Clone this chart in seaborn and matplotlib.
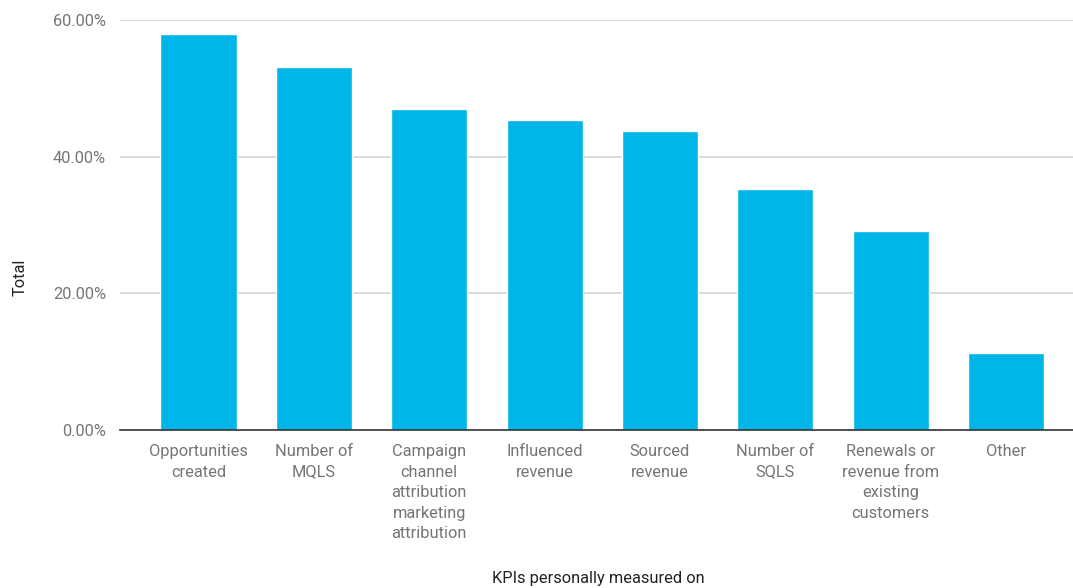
import matplotlib
matplotlib.use("Agg")
import matplotlib.pyplot as plt
from matplotlib.ticker import FuncFormatter
import seaborn as sns
import pandas as pd

categories = [
    "Opportunities\ncreated",
    "Number of\nMQLS",
    "Campaign\nchannel\nattribution\nmarketing\nattribution",
    "Influenced\nrevenue",
    "Sourced\nrevenue",
    "Number of\nSQLS",
    "Renewals or\nrevenue from\nexisting\ncustomers",
    "Other",
]
totals = [58.0, 53.1, 47.0, 45.3, 43.7, 35.2, 29.1, 11.2]
y_ticks = [0, 20, 40, 60]

df = pd.DataFrame({"kpi": categories, "total": totals})

sns.set_theme(style="white")
plt.rcParams["font.family"] = ["Roboto", "DejaVu Sans"]

fig = plt.figure(figsize=(10.73, 5.88), dpi=100)
ax = fig.add_axes([120 / 1073, 1 - 430 / 588, 1 - 120 / 1073, 410 / 588])

sns.barplot(data=df, x="kpi", y="total", color="#00b5e8", width=0.66,
            saturation=1, ax=ax, zorder=3)

ax.set_ylim(0, 60)
ax.set_xlim(-0.68, 7.58)
ax.set_yticks(y_ticks)
ax.yaxis.set_major_formatter(FuncFormatter(lambda v, _: f"{v:.2f}%"))
ax.grid(axis="y", color="#d3d3d3", linewidth=1.2, zorder=0)
ax.grid(axis="x", visible=False)

for side in ["top", "right", "left"]:
    ax.spines[side].set_visible(False)
ax.spines["bottom"].set_color("#333333")
ax.spines["bottom"].set_linewidth(1.2)
ax.spines["bottom"].set_zorder(4)

ax.tick_params(axis="both", length=0, labelsize=11.8, labelcolor="#757575")
ax.tick_params(axis="x", pad=10)
ax.tick_params(axis="y", pad=10)
for lbl in ax.get_xticklabels():
    lbl.set_linespacing(1.47)

ax.set_xlabel("")
ax.set_ylabel("")
fig.text(20 / 1073, 1 - 277 / 588, "Total", rotation=90, ha="center",
         va="center", fontsize=11.8, color="#222222")
fig.text(598 / 1073, 1 - 578 / 588, "KPIs personally measured on",
         ha="center", va="center", fontsize=11.8, color="#222222")

fig.savefig("out.png", dpi=100)
